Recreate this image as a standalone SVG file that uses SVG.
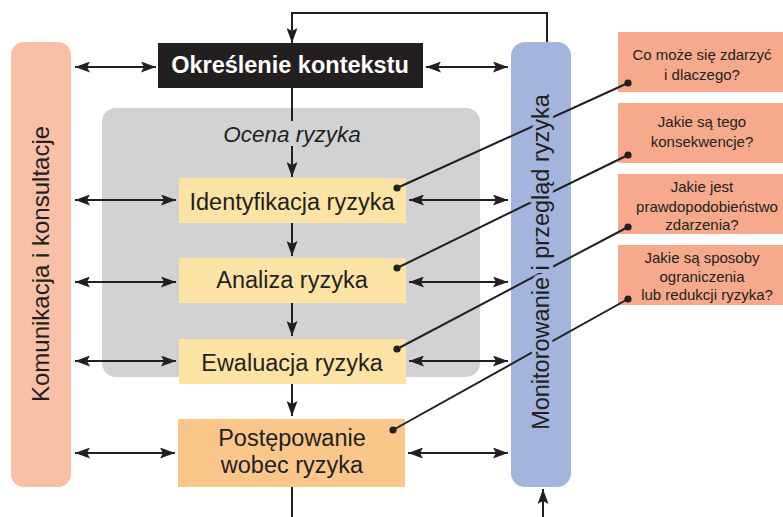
<svg xmlns="http://www.w3.org/2000/svg" width="783" height="517" viewBox="0 0 783 517">
<defs>
<marker id="ah" viewBox="0 0 15 11" refX="15" refY="5.5" markerWidth="15" markerHeight="11" markerUnits="userSpaceOnUse" orient="auto-start-reverse">
<path d="M0,0 L15,5.5 L0,11 L3,5.5 z" fill="#231f20"/>
</marker>
</defs>
<style>
.ln{stroke:#231f20;stroke-width:2;fill:none}
.arr{stroke:#231f20;stroke-width:2;fill:none;marker-end:url(#ah)}
.dbl{stroke:#231f20;stroke-width:2;fill:none;marker-end:url(#ah);marker-start:url(#ah)}
.t{font-family:"Liberation Sans",Arial,sans-serif;fill:#231f20;text-anchor:middle}
.p{font-size:23.5px}
.q{font-size:15px}
.yel{fill:#fee4a4}
.sal{fill:#f7a98c}
.dot{fill:#231f20}
</style>

<g id="komunikacja">
<rect x="11" y="42" width="60" height="445" rx="13" fill="#f9bfa7"/>
<text class="t" transform="translate(49,264) rotate(-90)" font-size="24">Komunikacja i konsultacje</text>
</g>

<g id="ocena">
<rect x="102" y="108" width="378" height="269" rx="14" fill="#d1d2d4"/>
<text class="t" x="292" y="142" font-size="22.5" font-style="italic">Ocena ryzyka</text>
</g>

<g id="monitorowanie-bar">
<rect x="511" y="42" width="60" height="445" rx="14" fill="#a3b5dc"/>
</g>

<g id="kontekst">
<rect x="158" y="43" width="265" height="45" fill="#231f20"/>
<text class="t" x="290" y="73" font-size="23.5" font-weight="bold" style="fill:#ffffff">Określenie kontekstu</text>
</g>

<g id="identyfikacja">
<rect class="yel" x="179" y="178" width="227" height="45"/>
<text class="t p" x="292" y="210">Identyfikacja ryzyka</text>
</g>

<g id="analiza">
<rect class="yel" x="179" y="258" width="227" height="45"/>
<text class="t p" x="292" y="288">Analiza ryzyka</text>
</g>

<g id="ewaluacja">
<rect class="yel" x="179" y="339" width="227" height="45"/>
<text class="t p" x="292" y="371">Ewaluacja ryzyka</text>
</g>

<g id="postepowanie">
<rect x="178" y="419" width="227" height="68" fill="#fbc68a"/>
<text class="t p" x="292" y="446">Postępowanie</text>
<text class="t p" x="292" y="473">wobec ryzyka</text>
</g>

<g id="q1">
<rect class="sal" x="618" y="32" width="165" height="60"/>
<text class="t q" x="702" y="60">Co może się zdarzyć</text>
<text class="t q" x="702" y="80">i dlaczego?</text>
</g>
<g id="q2">
<rect class="sal" x="618" y="103" width="165" height="60"/>
<text class="t q" x="702" y="127">Jakie są tego</text>
<text class="t q" x="702" y="147">konsekwencje?</text>
</g>
<g id="q3">
<rect class="sal" x="618" y="174" width="165" height="60"/>
<text class="t q" x="702" y="192">Jakie jest</text>
<text class="t q" x="707" y="212">prawdopodobieństwo</text>
<text class="t q" x="702" y="230">zdarzenia?</text>
</g>
<g id="q4">
<rect class="sal" x="618" y="245" width="165" height="60"/>
<text class="t q" x="702" y="263">Jakie są sposoby</text>
<text class="t q" x="702" y="282">ograniczenia</text>
<text class="t q" x="707" y="300">lub redukcji ryzyka?</text>
</g>

<g id="connectors">
<polyline class="ln" points="547,42 547,13 292,13 292,20"/>
<line class="arr" x1="292" y1="19" x2="292" y2="43"/>
<line class="ln" x1="292" y1="88" x2="292" y2="121"/>
<line class="arr" x1="292" y1="146" x2="292" y2="177"/>
<line class="arr" x1="292" y1="223" x2="292" y2="256"/>
<line class="arr" x1="292" y1="303" x2="292" y2="336"/>
<line class="arr" x1="292" y1="384" x2="292" y2="416"/>
<line class="ln" x1="292" y1="487" x2="292" y2="517"/>
<line class="arr" x1="543" y1="517" x2="543" y2="489"/>

<line class="dbl" x1="75" y1="67" x2="156" y2="67"/>
<line class="dbl" x1="426" y1="67" x2="508" y2="67"/>
<line class="dbl" x1="75" y1="200" x2="176" y2="200"/>
<line class="dbl" x1="75" y1="282" x2="176" y2="282"/>
<line class="dbl" x1="75" y1="361" x2="176" y2="361"/>
<line class="dbl" x1="75" y1="453" x2="175" y2="453"/>
<line class="dbl" x1="409" y1="200" x2="508" y2="200"/>
<line class="dbl" x1="409" y1="282" x2="508" y2="282"/>
<line class="dbl" x1="409" y1="361" x2="508" y2="361"/>
<line class="dbl" x1="408" y1="453" x2="508" y2="453"/>

<line class="ln" x1="628" y1="83" x2="397" y2="188"/>
<line class="ln" x1="628" y1="155" x2="397" y2="268"/>
<line class="ln" x1="628" y1="227" x2="397" y2="349"/>
<line class="ln" x1="628" y1="299" x2="393" y2="430"/>
<circle class="dot" cx="628" cy="83" r="3.6"/>
<circle class="dot" cx="397" cy="188" r="3.6"/>
<circle class="dot" cx="628" cy="155" r="3.6"/>
<circle class="dot" cx="397" cy="268" r="3.6"/>
<circle class="dot" cx="628" cy="227" r="3.6"/>
<circle class="dot" cx="397" cy="349" r="3.6"/>
<circle class="dot" cx="628" cy="299" r="3.6"/>
<circle class="dot" cx="393" cy="430" r="3.6"/>
</g>

<g id="monitorowanie-label">
<text class="t p" transform="translate(549,262) rotate(-90)" stroke="#a3b5dc" stroke-width="8" stroke-linejoin="round" paint-order="stroke">Monitorowanie i przegląd ryzyka</text>
</g>
</svg>
